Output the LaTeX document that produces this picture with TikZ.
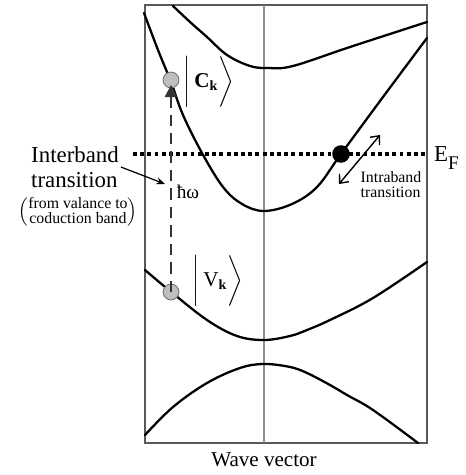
\documentclass[tikz,border=0pt]{standalone}
\usepackage{amsmath}
\usepackage{fontspec}
\setmainfont{Liberation Serif}
\usetikzlibrary{arrows.meta,positioning}
\tikzset{
  band/.style={
    line width=1.3pt,
    line cap=round,
    smooth,
    tension=0.6
  },
  frame/.style={
    draw=black!65,
    line width=0.7pt
  },
  kaxis/.style={
    draw=black!45,
    line width=0.6pt
  },
  fermi/.style={
    line width=2.2pt,
    dash pattern=on 2.2pt off 1.9pt
  },
}
\tikzset{
  state/.style={
    shape = circle,
    inner sep = 0pt,
    minimum size = 9pt,
    draw = black!55,
    fill = black!25,
    line width = 0.5pt
  },
  electron/.style={
    shape = circle,
    inner sep = 0pt,
    minimum size = 10pt,
    fill = black
  },
  photon/.style={
    draw = black!80,
    line width = 1.2pt,
    dash pattern = on 6.5pt off 4pt,
    -{Triangle[length=7pt,width=7pt]}
  },
  hop/.style={
    line width = 0.8pt,
    {Straight Barb[length=4pt,width=7pt]}-{Straight Barb[length=4pt,width=7pt]}
  },
  pointer/.style={
    line width = 0.7pt,
    -{Stealth[length=5pt,width=4pt]}
  },
  lbl/.style={
    font = \fontsize{13}{14.2}\selectfont,
    inner sep = 1pt
  },
  ket/.style={
    font = \fontsize{12}{14}\selectfont,
    inner sep = 1pt
  },
  tiny/.style={
    font = \fontsize{9}{8.5}\selectfont,
    inner sep = 1pt
  }
}

\begin{document}
\begin{tikzpicture}[x=0.02cm, y=-0.02cm]
        \useasboundingbox (0,0) rectangle (465,475);

        % box and k = 0 line
        \draw[frame] (145,5) rectangle (427,443);
        \draw[kaxis] (264,5) -- (264,443);

        % bands
        \draw[band] plot coordinates {(173,6) (190,22) (207,37) (227,55) (250,66) (268,68) (293,66) (350,47) (427,22)};
        \draw[band] plot coordinates {(144,13) (158,50) (171,82) (183,115) (202,153) (223,187) (242,204) (264,211) (292,204) (317,187) (341,154) (383,97) (427,38)};
        \draw[band] plot coordinates {(145,270) (170,291) (207,320) (237,336) (264,340) (290,336) (307,330) (330,320) (373,298) (427,262)};
        \draw[band] plot coordinates {(145,435) (173,407) (207,383) (240,368) (264,364) (290,367) (307,373) (330,385) (347,395) (373,410) (418,443)};

        % Fermi level
        \draw[fermi] (133,154) -- (427,154);

        \node[state] (ck) at (171,80) {};
        \node[state] (vk) at (171,292) {};
        \node[electron] (el) at (341,154) {};

        \draw[photon, shorten >=2.8pt] (vk.center) -- (ck.center);

        \node[ket] (ckl) at (209,82) {$\bigg|\,\text{\textbf{C}}_{\mathbf{k}}\bigg\rangle$};
        \node[ket] (vkl) at (218,281) {$\bigg|\,\text{V}_{\mathbf{k}}\bigg\rangle$};
        \node[inner sep=1pt, font=\fontsize{11}{11}\selectfont] (hw) at (188,192) {ħω};

        \node[lbl, align=left] (ibt) at (75,167) {Interband\\transition};
        \node[inner sep=0pt] (ibnote) at (78,212) {\fontsize{9}{7}\selectfont$\left(\begin{tabular}{@{}c@{}}from valance to\\coduction band\end{tabular}\right)$};
        \coordinate (hwtip) at (165,184);
        \draw[pointer] (ibt.east) -- (hwtip);

        \coordinate (ia) at (339,184);
        \coordinate (ib) at (380,135);
        \draw[hop] (ia) -- (ib);
        \node[tiny, align=left] (intra) at (391,185) {Intraband\\transition};

        \node[lbl, anchor=west] (ef) at (432,158) {E\raisebox{-5pt}{\fontsize{11}{11}\selectfont F}};
        \node[lbl, font=\fontsize{12}{14}\selectfont] (wave) at (264,460) {Wave vector};
\end{tikzpicture}
\end{document}
